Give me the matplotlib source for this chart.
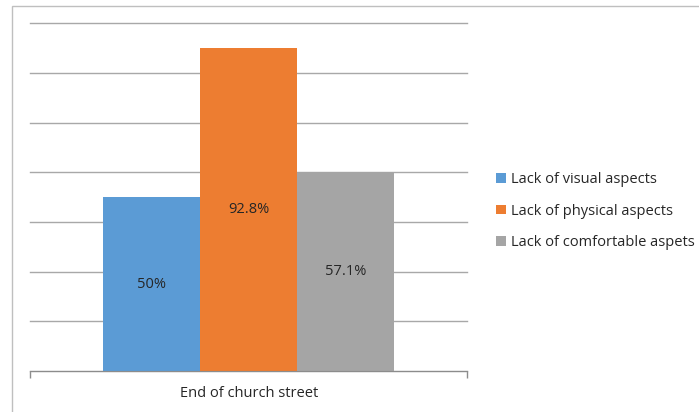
import matplotlib
matplotlib.use("Agg")
import matplotlib.pyplot as plt
from matplotlib.patches import Rectangle

category = ["End of church street"]
series = ["Lack of visual aspects", "Lack of physical aspects", "Lack of comfortable aspets"]
heights = [3.5, 6.5, 4.0]
labels = ["50%", "92.8%", "57.1%"]
colors = ["#5B9BD5", "#ED7D31", "#A5A5A5"]
grid_ticks = [0, 1, 2, 3, 4, 5, 6, 7]

plt.rcParams['font.family'] = ['Open Sans', 'DejaVu Sans']

fig = plt.figure(figsize=(6.99, 4.12), dpi=100)
fig.patches.append(Rectangle((12/699, -0.5), 2, 0.5 + (412-5.5)/412, transform=fig.transFigure,
                             fill=False, edgecolor="#bfbfbf", linewidth=1.0))

ax = fig.add_axes([30.3/699, 41/412, (467-30.3)/699, (371-23.3)/412])
w = 0.222
offsets = [-w, 0, w]
for s, h, lab, c, o in zip(series, heights, labels, colors, offsets):
    ax.bar(0 + o, h, width=w, color=c, label=s, zorder=3)
    ax.text(0 + o, h / 2, lab, ha="center", va="center", fontsize=10.5, color="#262626", zorder=4)

ax.set_xlim(-0.5, 0.5)
ax.set_ylim(0, 7)
ax.set_yticks(grid_ticks)
ax.yaxis.grid(True, color="#a8a8a8", linewidth=1.0, zorder=0)
ax.tick_params(axis="y", left=False, labelleft=False)
for sp in ["top", "right", "left"]:
    ax.spines[sp].set_visible(False)
ax.spines["bottom"].set_color("#8c8c8c")
ax.spines["bottom"].set_zorder(5)
ax.set_xticks([-0.5, 0.5])
ax.set_xticklabels(["", ""])
ax.tick_params(axis="x", length=5, color="#8c8c8c", width=1)
ax.text(0, -0.46, category[0], ha="center", va="center", fontsize=10.5, color="#262626",
        transform=ax.transData, clip_on=False)
for line in ax.get_ygridlines():
    line.set_clip_on(False)

leg = fig.legend(loc="upper left", bbox_to_anchor=(483/699, 1 - 159/412), frameon=False,
                 fontsize=10.5, handlelength=0.65, handleheight=0.65, handletextpad=0.4,
                 labelspacing=1.14, labelcolor="#262626")

fig.savefig("out.png", dpi=100)
